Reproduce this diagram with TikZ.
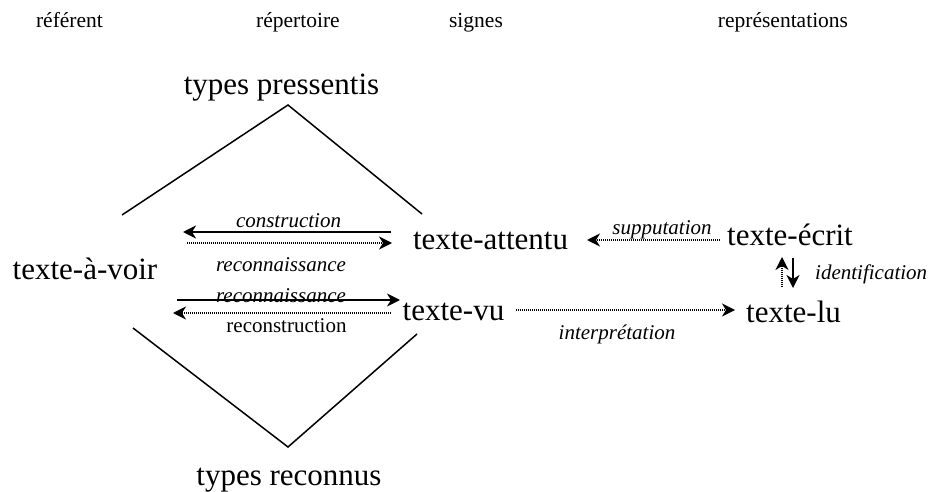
\documentclass[tikz,border=0pt]{standalone}
\usepackage{fontspec}
\setmainfont{Liberation Serif}
\usetikzlibrary{arrows.meta}
\begin{document}
\begin{tikzpicture}[x=1pt,y=-1pt,
  big/.style={font=\fontsize{31}{36}\selectfont, inner sep=0pt, anchor=base},
  small/.style={font=\fontsize{21.5}{25}\selectfont, inner sep=0pt, anchor=base},
  lab/.style={font=\fontsize{21}{25}\selectfont\itshape, inner sep=0pt, anchor=base},
  labup/.style={font=\fontsize{21}{25}\selectfont, inner sep=0pt, anchor=base},
  tri/.style={line width=1.5pt},
  tip/.style={-{Stealth[length=13pt,width=13pt,inset=4pt]}},
  sarr/.style={line width=1.8pt, tip},
  darr/.style={line width=1.5pt, dash pattern=on 1.4pt off 0.6pt, tip}]
\useasboundingbox (0,0) rectangle (930,492);

% column headings
\node[small] (h1) at (69.5,28) {référent};
\node[small] (h2) at (298,28) {répertoire};
\node[small] (h3) at (476,28) {signes};
\node[small] (h4) at (783,28) {représentations};

% main nodes
\node[big] (tp) at (281.5,95) {types pressentis};
\node[big] (tr) at (289,485) {types reconnus};
\node[big] (voir) at (85,279) {texte-à-voir};
\node[big] (att) at (490.5,249) {texte-attentu};
\node[big] (vu) at (453.5,320) {texte-vu};
\node[big] (ecr) at (790,246) {texte-écrit};
\node[big] (lu) at (793.5,322) {texte-lu};

% triangle lines
\coordinate (t1) at (122,215);
\coordinate (t2) at (288,105);
\coordinate (t3) at (422,214);
\coordinate (b1) at (133,328);
\coordinate (b2) at (288,447);
\coordinate (b3) at (417,334);
\draw[tri] (t1) -- (t2) -- (t3);
\draw[tri] (b1) -- (b2) -- (b3);

% left arrows
\coordinate (c1) at (391,232);
\coordinate (c2) at (183,232);
\draw[sarr] (c1) -- (c2);
\node[lab] (lc) at (288.5,228) {construction};

\coordinate (r1) at (187,243);
\coordinate (r2) at (392,243);
\draw[darr] (r1) -- (r2);
\node[lab] (lr1) at (281,271) {reconnaissance};

\node[lab] (lr2) at (281,302) {reconnaissance};
\coordinate (s1) at (177,300);
\coordinate (s2) at (400,300);
\draw[sarr] (s1) -- (s2);

\coordinate (d1) at (391,313);
\coordinate (d2) at (173,313);
\draw[darr] (d1) -- (d2);
\node[labup] (lrc) at (286.5,332) {reconstruction};

% right arrows
\coordinate (u1) at (720,240);
\coordinate (u2) at (587,240);
\draw[darr] (u1) -- (u2);
\node[lab] (lsup) at (662,234) {supputation};

\coordinate (i1) at (516,310);
\coordinate (i2) at (735,310);
\draw[darr] (i1) -- (i2);
\node[lab] (lint) at (617,339) {interprétation};

\coordinate (v1) at (782,287);
\coordinate (v2) at (782,257);
\draw[darr] (v1) -- (v2);
\coordinate (w1) at (793,258);
\coordinate (w2) at (793,288);
\draw[sarr] (w1) -- (w2);
\node[lab, anchor=base west] (lid) at (815,279) {identification};
\end{tikzpicture}
\end{document}
